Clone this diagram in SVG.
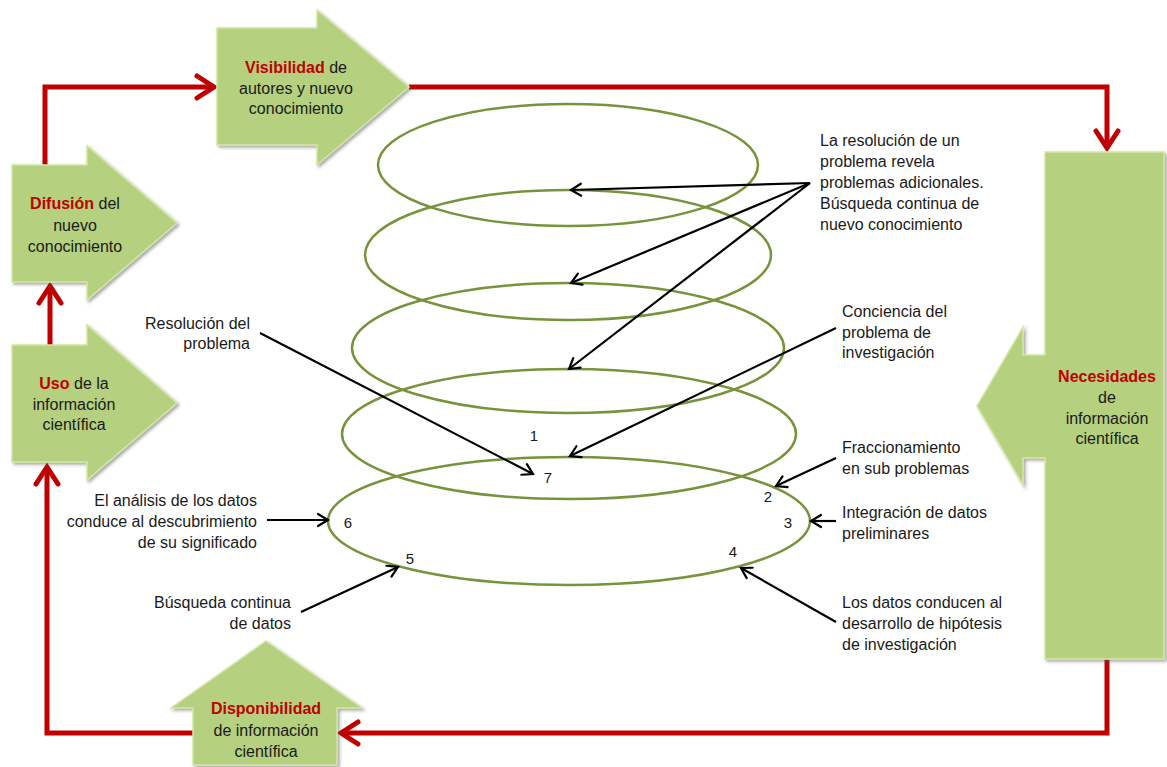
<svg xmlns="http://www.w3.org/2000/svg" width="1167" height="767" viewBox="0 0 1167 767">
<style>
text{font-family:"Liberation Sans",Arial,sans-serif;font-size:16px;fill:#1a1a1a}
.c{text-anchor:middle}
.r{text-anchor:end}
.h{fill:#C00000;font-weight:bold}
.num{font-size:15px;text-anchor:middle}
.blk{fill:#B5D07E;stroke:#D3E6A6;stroke-width:1.5;filter:url(#sh)}
.ring{fill:none;stroke:#77933C;stroke-width:2.5}
.red{fill:none;stroke:#C00000;stroke-width:5;stroke-linejoin:miter}
.ln{fill:none;stroke:#000;stroke-width:2.2}
</style>
<defs>
<filter id="sh" x="-10%" y="-10%" width="130%" height="130%">
<feDropShadow dx="2" dy="2" stdDeviation="1.5" flood-color="#555" flood-opacity="0.5"/>
</filter>
<marker id="ra" markerUnits="userSpaceOnUse" viewBox="0 0 30 30" markerWidth="30" markerHeight="30" refX="24" refY="15" orient="auto">
<path d="M7,4 L24,15 L7,26" fill="none" stroke="#C00000" stroke-width="5" stroke-linecap="round" stroke-linejoin="miter"/>
</marker>
<marker id="ba" markerUnits="userSpaceOnUse" viewBox="0 0 20 20" markerWidth="20" markerHeight="20" refX="15" refY="10" orient="auto">
<path d="M5,4 L15,10 L5,16" fill="none" stroke="#000" stroke-width="2.2" stroke-linecap="round"/>
</marker>
</defs>
<rect width="1167" height="767" fill="#fff"/>

<g id="connectors">
<path class="red" d="M45,165 V87 H214" marker-end="url(#ra)"/>
<path class="red" d="M409,87 H1107 V148" marker-end="url(#ra)"/>
<path class="red" d="M1107,659 V733 H341" marker-end="url(#ra)"/>
<path class="red" d="M193,733 H47 V467" marker-end="url(#ra)"/>
<path class="red" d="M50,345 V286" marker-end="url(#ra)"/>
</g>

<g id="rings">
<ellipse class="ring" cx="568" cy="165" rx="190" ry="61"/>
<ellipse class="ring" cx="568" cy="255" rx="203" ry="65"/>
<ellipse class="ring" cx="568" cy="348" rx="216" ry="65"/>
<ellipse class="ring" cx="569" cy="434" rx="227" ry="65"/>
<ellipse class="ring" cx="569" cy="521" rx="241" ry="64"/>
</g>

<g id="steps">
<text class="num" x="534" y="441">1</text>
<text class="num" x="768" y="502">2</text>
<text class="num" x="788" y="528">3</text>
<text class="num" x="733" y="557">4</text>
<text class="num" x="410" y="564">5</text>
<text class="num" x="348" y="528">6</text>
<text class="num" x="548" y="483">7</text>
</g>

<g id="pointers">
<line class="ln" x1="810" y1="183" x2="571" y2="190" marker-end="url(#ba)"/>
<line class="ln" x1="810" y1="183" x2="571" y2="283" marker-end="url(#ba)"/>
<line class="ln" x1="810" y1="183" x2="569" y2="369" marker-end="url(#ba)"/>
<line class="ln" x1="836" y1="328" x2="570" y2="456" marker-end="url(#ba)"/>
<line class="ln" x1="260" y1="333" x2="533" y2="474" marker-end="url(#ba)"/>
<line class="ln" x1="836" y1="458" x2="776" y2="486" marker-end="url(#ba)"/>
<line class="ln" x1="836" y1="521" x2="811" y2="521" marker-end="url(#ba)"/>
<line class="ln" x1="836" y1="622" x2="741" y2="568" marker-end="url(#ba)"/>
<line class="ln" x1="267" y1="520" x2="328" y2="520" marker-end="url(#ba)"/>
<line class="ln" x1="301" y1="612" x2="398" y2="567" marker-end="url(#ba)"/>
</g>

<g id="notes">
<text x="820" y="146">La resolución de un</text>
<text x="820" y="167">problema revela</text>
<text x="820" y="188">problemas adicionales.</text>
<text x="820" y="209">Búsqueda continua de</text>
<text x="820" y="230">nuevo conocimiento</text>
<text x="842" y="317">Conciencia del</text>
<text x="842" y="337.5">problema de</text>
<text x="842" y="358">investigación</text>
<text x="842" y="452.5">Fraccionamiento</text>
<text x="842" y="473.5">en sub problemas</text>
<text x="842" y="518">Integración de datos</text>
<text x="842" y="538.5">preliminares</text>
<text x="842" y="607.5">Los datos conducen al</text>
<text x="842" y="629">desarrollo de hipótesis</text>
<text x="842" y="649.5">de investigación</text>
<text class="r" x="250" y="328.5">Resolución del</text>
<text class="r" x="250" y="349">problema</text>
<text class="r" x="257" y="505.5">El análisis de los datos</text>
<text class="r" x="257" y="527">conduce al descubrimiento</text>
<text class="r" x="257" y="547.5">de su significado</text>
<text class="r" x="291" y="607.5">Búsqueda continua</text>
<text class="r" x="291" y="628.5">de datos</text>
</g>

<g id="visibilidad">
<polygon class="blk" points="217,28 317,28 317,10 409,87 317,165 317,145 217,145"/>
<text class="c" x="296" y="72.5"><tspan class="h">Visibilidad</tspan>  de</text>
<text class="c" x="296" y="93.5">autores y nuevo</text>
<text class="c" x="296" y="114">conocimiento</text>
</g>

<g id="difusion">
<polygon class="blk" points="12,165 87,165 87,146 177,223 87,300 87,282 12,282"/>
<text class="c" x="75" y="208.5"><tspan class="h">Difusión</tspan> del</text>
<text class="c" x="75" y="231">nuevo</text>
<text class="c" x="75" y="251.5">conocimiento</text>
</g>

<g id="uso">
<polygon class="blk" points="12,345 87,345 87,325 177,403 87,480 87,462 12,462"/>
<text class="c" x="74" y="388.5"><tspan class="h">Uso</tspan> de la</text>
<text class="c" x="74" y="409.5">información</text>
<text class="c" x="74" y="430">científica</text>
</g>

<g id="disponibilidad">
<polygon class="blk" points="266,641 362,708 337,708 337,765 193,765 193,708 171,708"/>
<text class="c" x="266" y="713.5"><tspan class="h">Disponibilidad</tspan></text>
<text class="c" x="266" y="736">de información</text>
<text class="c" x="266" y="756.5">científica</text>
</g>

<g id="necesidades">
<path class="blk" d="M1045,152 H1164 V659 H1045 V458 H1023 V485 L977,406 L1023,327 V355 H1045 Z"/>
<text class="c" x="1107" y="381.5"><tspan class="h">Necesidades</tspan></text>
<text class="c" x="1107" y="403">de</text>
<text class="c" x="1107" y="423.5">información</text>
<text class="c" x="1107" y="444">científica</text>
</g>
</svg>
